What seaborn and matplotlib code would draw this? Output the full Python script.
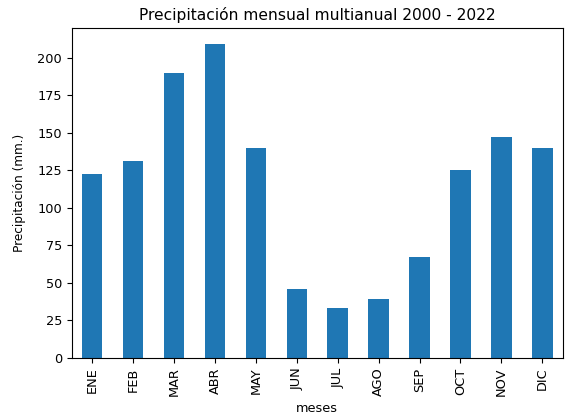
import seaborn as sns
import matplotlib.pyplot as plt
import pandas as pd

meses = ['ENE', 'FEB', 'MAR', 'ABR', 'MAY', 'JUN', 'JUL', 'AGO', 'SEP', 'OCT', 'NOV', 'DIC']
precipitacion = [122.7, 131.5, 189.7, 209.3, 140.0, 46.0, 33.3, 39.1, 67.3, 125.3, 147.1, 140.0]

df = pd.DataFrame({'meses': meses, 'precipitacion': precipitacion})

plt.rcParams['font.size'] = 9.3

fig, ax = plt.subplots(figsize=(5.65, 4.18), dpi=100)
fig.subplots_adjust(left=0.127, right=0.996, top=0.933, bottom=0.144)

sns.barplot(x='meses', y='precipitacion', data=df, color='#1f77b4',
            saturation=1, width=0.5, ax=ax)
ax.set_xlim(-0.5, len(meses) - 0.5)
ax.set_ylim(0, 220)
ax.tick_params(axis='x', rotation=90)
ax.set_xlabel('meses')
ax.set_ylabel('Precipitación (mm.)', fontsize=8.7, labelpad=8)
ax.set_title('Precipitación mensual multianual 2000 - 2022', fontsize=11.2)

plt.savefig('out.png', dpi=100)
